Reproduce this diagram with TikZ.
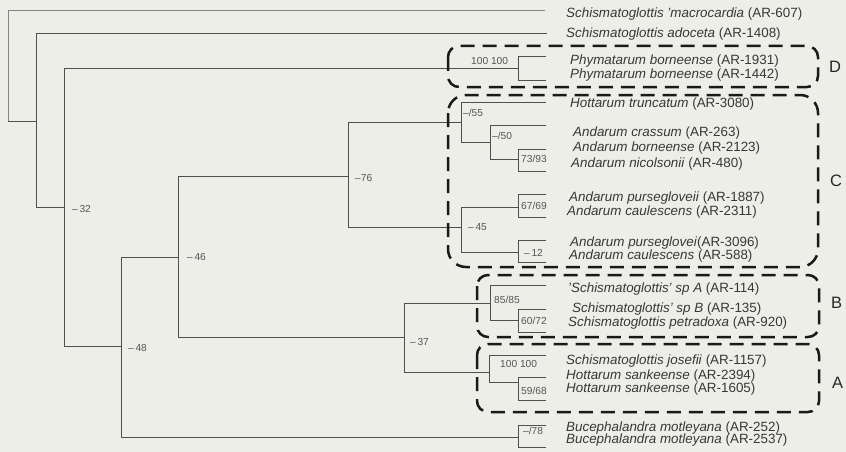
\documentclass[tikz,border=0pt]{standalone}
\usepackage{fontspec}
\setmainfont{Liberation Sans}
\definecolor{bgc}{RGB}{238,238,233}
\definecolor{linec}{RGB}{80,80,80}
\definecolor{txtc}{RGB}{55,55,55}
\definecolor{supc}{RGB}{85,85,85}
\tikzset{
  branch/.style={draw=linec, line width=0.8pt},
  taxon/.style={anchor=west, inner sep=0pt, text=txtc, font=\fontsize{13.4}{14}\selectfont},
  support/.style={anchor=west, inner sep=0pt, text=supc, font=\fontsize{10.2}{11}\selectfont},
  cladebox/.style={draw=black!90, line width=2.5pt, dash pattern=on 14pt off 8pt, rounded corners=11pt},
  cladelabel/.style={anchor=west, inner sep=0pt, text=black!85, font=\fontsize{16.5}{18}\selectfont},
}
\begin{document}
\begin{tikzpicture}[x=1pt,y=-1pt]
\fill[bgc] (0,0) rectangle (846,452);
\useasboundingbox (0,0) rectangle (846,452);

% internal nodes
\coordinate (R) at (8,121);
\coordinate (N2) at (36,121);
\coordinate (N3) at (64,207);
\coordinate (PD) at (518,68);
\coordinate (N4) at (121,346);
\coordinate (BU) at (518,437);
\coordinate (N5) at (178,257);
\coordinate (N6) at (348,176);
\coordinate (N7) at (404,337);
\coordinate (C1) at (461,122);
\coordinate (C2) at (490,142);
\coordinate (C3) at (518,159);
\coordinate (C4) at (461,227);
\coordinate (C5) at (518,207);
\coordinate (C6) at (518,252);
\coordinate (B1) at (490,303);
\coordinate (B2) at (518,320);
\coordinate (A1) at (489,372);
\coordinate (A2) at (518,382);

% tips
\coordinate (t1) at (545,10);
\coordinate (t2) at (547,33);
\coordinate (t3) at (546,56);
\coordinate (t4) at (546,80);
\coordinate (t5) at (546,102);
\coordinate (t6) at (546,125);
\coordinate (t7) at (546,149);
\coordinate (t8) at (546,171);
\coordinate (t9) at (546,194);
\coordinate (t10) at (546,217);
\coordinate (t11) at (546,240);
\coordinate (t12) at (546,262);
\coordinate (t13) at (546,285);
\coordinate (t14) at (546,309);
\coordinate (t15) at (546,332);
\coordinate (t16) at (546,355);
\coordinate (t17) at (546,377);
\coordinate (t18) at (546,400);
\coordinate (t19) at (546,425);
\coordinate (t20) at (546,447);

% branches
\draw[branch, draw=linec!70] (R) |- (t1);
\draw[branch] (R) |- (N2);
\draw[branch] (N2) |- (t2);
\draw[branch] (N2) |- (N3);
\draw[branch] (N3) |- (PD);
\draw[branch] (N3) |- (N4);
\draw[branch] (PD) |- (t3);
\draw[branch] (PD) |- (t4);
\draw[branch] (N4) |- (N5);
\draw[branch] (N4) |- (BU);
\draw[branch] (BU) |- (t19);
\draw[branch] (BU) |- (t20);
\draw[branch] (N5) |- (N6);
\draw[branch] (N5) |- (N7);
\draw[branch] (N6) |- (C1);
\draw[branch] (N6) |- (C4);
\draw[branch] (C1) |- (t5);
\draw[branch] (C1) |- (C2);
\draw[branch] (C2) |- (t6);
\draw[branch] (C2) |- (C3);
\draw[branch] (C3) |- (t7);
\draw[branch] (C3) |- (t8);
\draw[branch] (C4) |- (C5);
\draw[branch] (C4) |- (C6);
\draw[branch] (C5) |- (t9);
\draw[branch] (C5) |- (t10);
\draw[branch] (C6) |- (t11);
\draw[branch] (C6) |- (t12);
\draw[branch] (N7) |- (B1);
\draw[branch] (N7) |- (A1);
\draw[branch] (B1) |- (t13);
\draw[branch] (B1) |- (B2);
\draw[branch] (B2) |- (t14);
\draw[branch] (B2) |- (t15);
\draw[branch] (A1) |- (t16);
\draw[branch] (A1) |- (A2);
\draw[branch] (A2) |- (t17);
\draw[branch] (A2) |- (t18);

% support values
\node[support] (s32) at (72,209) {--\,32};
\node[support] (s48) at (128,348) {--\,48};
\node[support] (s46) at (187,257) {--\,46};
\node[support] (s76) at (355,178) {--76};
\node[support] (s37) at (410,342) {--\,37};
\node[support] (sPD) at (471,61) {100 100};
\node[support] (s55) at (463,113) {--/55};
\node[support] (s50) at (492,136) {--/50};
\node[support] (s7393) at (521,159) {73/93};
\node[support] (s6769) at (521,206) {67/69};
\node[support] (s45) at (468,227) {--\,45};
\node[support] (s12) at (524,253) {--\,12};
\node[support] (s8585) at (494,300) {85/85};
\node[support] (s6072) at (521,321) {60/72};
\node[support] (sA) at (500,364) {100 100};
\node[support] (s5968) at (521,391) {59/68};
\node[support] (s78) at (523,431) {--/78};

% taxa
\node[taxon] (x1) at (566,14) {\textit{Schismatoglottis 'macrocardia} (AR-607)};
\node[taxon] (x2) at (566,34) {\textit{Schismatoglottis adoceta} (AR-1408)};
\node[taxon] (x3) at (570,61) {\textit{Phymatarum borneense} (AR-1931)};
\node[taxon] (x4) at (570,75) {\textit{Phymatarum borneense} (AR-1442)};
\node[taxon] (x5) at (570,104) {\textit{Hottarum truncatum} (AR-3080)};
\node[taxon] (x6) at (573,133) {\textit{Andarum crassum} (AR-263)};
\node[taxon] (x7) at (573,148) {\textit{Andarum borneense} (AR-2123)};
\node[taxon] (x8) at (571,164) {\textit{Andarum nicolsonii} (AR-480)};
\node[taxon] (x9) at (569,198) {\textit{Andarum pursegloveii} (AR-1887)};
\node[taxon] (x10) at (567,212) {\textit{Andarum caulescens} (AR-2311)};
\node[taxon] (x11) at (570,243) {\textit{Andarum purseglovei}(AR-3096)};
\node[taxon] (x12) at (569,256) {\textit{Andarum caulescens} (AR-588)};
\node[taxon] (x13) at (568,289) {\textit{'Schismatoglottis' sp A} (AR-114)};
\node[taxon] (x14) at (572,309) {\textit{Schismatoglottis' sp B} (AR-135)};
\node[taxon] (x15) at (568,323) {\textit{Schismatoglottis petradoxa} (AR-920)};
\node[taxon] (x16) at (566,361) {\textit{Schismatoglottis josefii} (AR-1157)};
\node[taxon] (x17) at (566,376) {\textit{Hottarum sankeense} (AR-2394)};
\node[taxon] (x18) at (566,389) {\textit{Hottarum sankeense} (AR-1605)};
\node[taxon] (x19) at (566,428) {\textit{Bucephalandra motleyana} (AR-252)};
\node[taxon] (x20) at (566,440) {\textit{Bucephalandra motleyana} (AR-2537)};

% clade boxes
\draw[cladebox] (448,46) rectangle (818,87);
\draw[cladebox, rounded corners=18pt] (448,95) rectangle (818,267);
\draw[cladebox] (477,275) rectangle (819,337);
\draw[cladebox] (477,344) rectangle (819,412);
\node[cladelabel] (LD) at (829,67) {D};
\node[cladelabel] (LC) at (830,181) {C};
\node[cladelabel] (LB) at (831,303) {B};
\node[cladelabel] (LA) at (832,383) {A};
\end{tikzpicture}
\end{document}
